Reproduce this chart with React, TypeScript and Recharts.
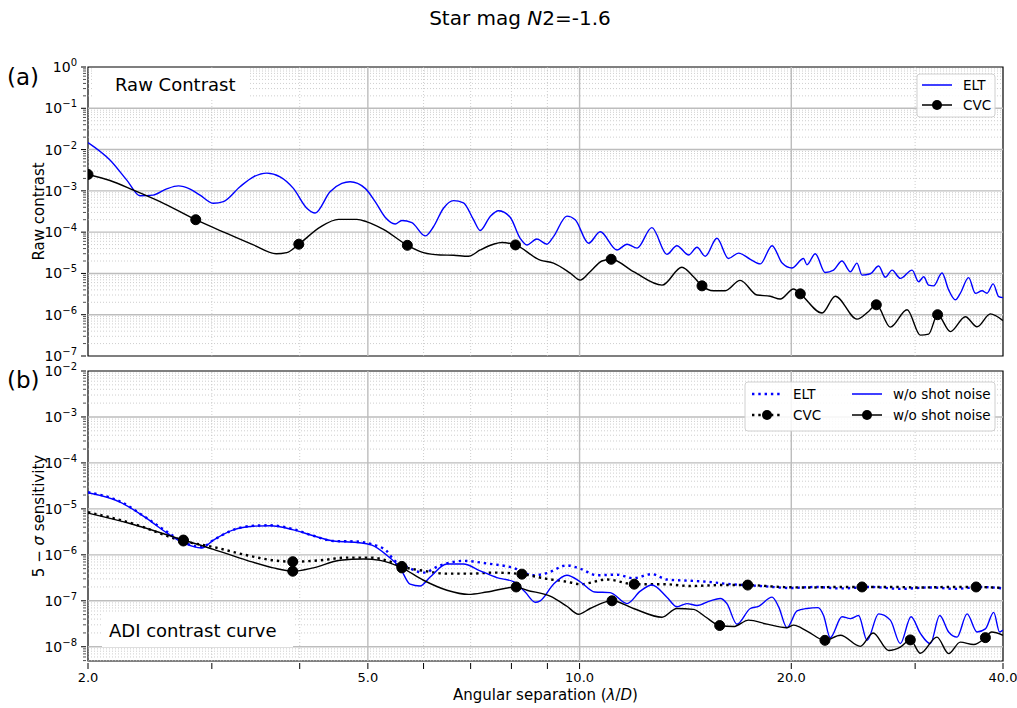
import React from "react";
import { LineChart, Line, XAxis, YAxis, ReferenceLine, ReferenceArea } from "recharts";

const FONT = "'DejaVu Sans', Verdana, sans-serif";
const BLUE = "#0000ff";
const ARCSEC_PER_LD = 0.0639;

// (a) raw contrast, ELT
const rawEltSep = [2.0, 2.149, 2.271, 2.371, 2.475, 2.588, 2.689, 2.794, 2.886, 3.016, 3.116, 3.29, 3.438, 3.592, 3.751, 3.918, 4.094, 4.207, 4.418, 4.591, 4.718, 4.956, 5.121, 5.291, 5.467, 5.589, 5.775, 6.032, 6.198, 6.404, 6.618, 6.838, 7.066, 7.222, 7.463, 7.668, 7.967, 8.233, 8.416, 8.696, 8.985, 9.181, 9.594, 9.858, 10.3, 10.7, 11.3, 11.68, 12.07, 12.67, 13.31, 13.75, 14.29, 14.69, 15.09, 15.68, 16.28, 16.83, 17.49, 18.07, 18.78, 19.41, 20.04, 20.82, 21.05, 21.63, 22.35, 22.97, 23.61, 24.27, 24.8, 25.21, 25.91, 26.62, 27.21, 27.82, 28.58, 29.7, 30.35, 30.85, 31.36, 31.87, 32.76, 33.48, 34.22, 34.78, 35.74, 36.54, 37.35, 37.96, 38.73, 39.44, 40];
const rawEltVal = [1.48e-2, 5.6e-3, 1.82e-3, 7.6e-4, 7.9e-4, 1.12e-3, 1.32e-3, 1.1e-3, 7.9e-4, 5.0e-4, 5.5e-4, 1.26e-3, 2.19e-3, 2.69e-3, 2.19e-3, 1.15e-3, 3.8e-4, 2.9e-4, 9.5e-4, 1.51e-3, 1.66e-3, 1.15e-3, 5.5e-4, 2.3e-4, 1.58e-4, 1.91e-4, 1.7e-4, 8.1e-5, 1.35e-4, 3.8e-4, 5.8e-4, 5.1e-4, 2.0e-4, 1.1e-4, 2.4e-4, 3.3e-4, 2.3e-4, 7.1e-5, 4.9e-5, 6.8e-5, 5.1e-5, 7.8e-5, 2.45e-4, 2.0e-4, 5.4e-5, 1.02e-4, 3.7e-5, 5.1e-5, 4.1e-5, 1.29e-4, 2.9e-5, 4.7e-5, 2.8e-5, 4.3e-5, 2.6e-5, 7.1e-5, 2.3e-5, 3.1e-5, 2.2e-5, 1.7e-5, 4.7e-5, 1.78e-5, 1.35e-5, 2.3e-5, 1.62e-5, 3.0e-5, 1.05e-5, 1.2e-5, 2.0e-5, 1.1e-5, 1.78e-5, 9.1e-6, 9.8e-6, 1.51e-5, 8.1e-6, 1.2e-5, 7.6e-6, 1.2e-5, 6.3e-6, 8.3e-6, 5.2e-6, 5.0e-6, 1.02e-5, 4.0e-6, 2.3e-6, 3.3e-6, 7.9e-6, 3.3e-6, 3.8e-6, 3.3e-6, 5.6e-6, 2.75e-6, 2.6e-6];

// (a) raw contrast, CVC
const rawCvcSep = [2.0, 2.149, 2.32, 2.532, 2.846, 3.15, 3.438, 3.703, 3.834, 3.988, 4.277, 4.541, 4.823, 4.984, 5.261, 5.69, 5.998, 6.335, 6.618, 6.95, 7.222, 7.544, 7.753, 8.107, 8.79, 9.181, 9.698, 10.02, 10.35, 10.76, 11.09, 11.93, 13.1, 13.98, 14.52, 14.93, 15.5, 16.11, 16.92, 17.88, 18.67, 19.29, 20.15, 20.6, 22.12, 23.1, 24.8, 25.76, 26.42, 27.66, 29.22, 30.52, 31.36, 32.29, 33.67, 35.36, 36.74, 38.38, 40];
const rawCvcVal = [2.5e-3, 1.78e-3, 1.05e-3, 5.5e-4, 2.0e-4, 9.3e-5, 4.9e-5, 3.0e-5, 3.2e-5, 5.1e-5, 1.32e-4, 2.04e-4, 2.04e-4, 1.78e-4, 1.17e-4, 4.8e-5, 3.2e-5, 2.8e-5, 2.75e-5, 2.6e-5, 3.7e-5, 5.1e-5, 5.6e-5, 4.9e-5, 2.1e-5, 1.78e-5, 1.02e-5, 6.9e-6, 1.1e-5, 2.0e-5, 2.2e-5, 1.1e-5, 5.2e-6, 1.41e-5, 8.3e-6, 5.0e-6, 3.8e-6, 3.8e-6, 6.8e-6, 3.0e-6, 2.8e-6, 2.4e-6, 4.2e-6, 3.2e-6, 1.1e-6, 2.8e-6, 7.8e-7, 1.2e-6, 1.74e-6, 5.0e-7, 1.32e-6, 3.2e-7, 3.4e-7, 1.0e-6, 3.9e-7, 8.9e-7, 5.1e-7, 1.05e-6, 7.2e-7];
const rawCvcMarks = [2.0, 2.846, 3.988, 5.69, 8.107, 11.09, 14.93, 20.6, 26.42, 32.29];

// (b) ADI, ELT with shot noise
const adiEltSep = [2.0, 2.221, 2.424, 2.588, 2.733, 2.902, 3.016, 3.219, 3.438, 3.631, 3.918, 4.183, 4.467, 4.823, 5.066, 5.32, 5.437, 5.681, 5.998, 6.335, 6.838, 7.382, 8.054, 8.6, 8.985, 9.594, 10.02, 10.58, 11.3, 11.92, 12.67, 13.31, 14.21, 15.18, 16.38, 18.07, 19.93, 21.63, 23.49, 25.91, 28.58, 31.53, 34.22, 37.15, 40];
const adiEltVal = [2.3e-5, 1.45e-5, 6.3e-6, 3.2e-6, 1.9e-6, 1.48e-6, 2.1e-6, 3.5e-6, 4.3e-6, 4.4e-6, 3.6e-6, 2.6e-6, 2.0e-6, 1.95e-6, 1.7e-6, 1.2e-6, 7.9e-7, 5.5e-7, 4.1e-7, 5.9e-7, 7.4e-7, 6.5e-7, 5.2e-7, 3.6e-7, 4.0e-7, 5.9e-7, 5.0e-7, 3.6e-7, 3.7e-7, 3.1e-7, 3.8e-7, 2.9e-7, 2.75e-7, 2.6e-7, 2.3e-7, 2.1e-7, 1.9e-7, 2.0e-7, 1.86e-7, 2.0e-7, 1.82e-7, 1.95e-7, 1.82e-7, 2.0e-7, 1.86e-7];

// (b) ADI, ELT without shot noise
const adiEltNsSep = [2.0, 2.221, 2.424, 2.588, 2.733, 2.902, 3.016, 3.219, 3.438, 3.631, 3.918, 4.183, 4.467, 4.823, 5.066, 5.32, 5.556, 5.741, 5.932, 6.131, 6.477, 6.838, 7.222, 7.627, 8.054, 8.368, 8.648, 8.79, 9.181, 9.594, 10.02, 10.51, 11.05, 11.68, 12.2, 12.67, 13.31, 13.75, 14.21, 14.69, 15.34, 15.85, 16.2, 16.74, 17.49, 17.97, 18.78, 19.19, 19.72, 20.38, 21.05, 21.83, 22.23, 22.72, 23.61, 24.27, 24.93, 25.63, 26.62, 27.66, 28.58, 29.6, 30.52, 31.53, 32.51, 33.48, 34.41, 35.56, 36.74, 37.76, 38.8, 39.55, 40];
const adiEltNsVal = [2.24e-5, 1.41e-5, 6.2e-6, 3.0e-6, 1.82e-6, 1.41e-6, 2.1e-6, 3.5e-6, 4.2e-6, 4.3e-6, 3.5e-6, 2.6e-6, 2.0e-6, 1.86e-6, 1.62e-6, 9.8e-7, 5.2e-7, 2.3e-7, 2.1e-7, 3.3e-7, 6.3e-7, 6.3e-7, 4.5e-7, 3.2e-7, 2.6e-7, 1.55e-7, 9.3e-8, 1.0e-7, 2.3e-7, 3.6e-7, 2.6e-7, 1.55e-7, 1.51e-7, 8.7e-8, 1.62e-7, 2.2e-7, 1.2e-7, 7.4e-8, 8.7e-8, 7.9e-8, 1.0e-7, 1.12e-7, 8.7e-8, 3.1e-8, 6.8e-8, 7.6e-8, 1.2e-7, 7.4e-8, 2.6e-8, 6.0e-8, 6.8e-8, 7.1e-8, 4.8e-8, 1.58e-8, 4.5e-8, 4.1e-8, 4.8e-8, 1.38e-8, 5.2e-8, 3.8e-8, 1.17e-8, 4.5e-8, 1.95e-8, 1.17e-8, 4.8e-8, 2.1e-8, 1.62e-8, 5.2e-8, 2.1e-8, 2.45e-8, 5.6e-8, 2.1e-8, 2.3e-8];

// (b) ADI, CVC with shot noise
const adiCvcSep = [2.0, 2.295, 2.733, 3.016, 3.364, 3.668, 3.91, 4.277, 4.667, 5.037, 5.379, 5.589, 5.998, 6.477, 6.99, 7.544, 8.279, 8.985, 9.594, 10.02, 10.94, 11.96, 13.16, 14.37, 15.85, 17.34, 19.29, 21.29, 23.1, 25.21, 27.66, 30.52, 33.67, 36.63, 40];
const adiCvcVal = [8.5e-6, 5.0e-6, 2.0e-6, 1.48e-6, 9.8e-7, 7.6e-7, 7.1e-7, 7.6e-7, 8.7e-7, 8.7e-7, 7.1e-7, 5.6e-7, 4.5e-7, 3.9e-7, 3.9e-7, 4.1e-7, 3.8e-7, 3.0e-7, 2.6e-7, 2.3e-7, 2.9e-7, 2.3e-7, 2.3e-7, 2.1e-7, 2.2e-7, 2.2e-7, 2.0e-7, 1.95e-7, 2.0e-7, 2.0e-7, 2.0e-7, 1.95e-7, 2.0e-7, 2.0e-7, 1.9e-7];
const adiCvcMarks = [2.733, 3.91, 5.589, 8.279, 11.96, 17.34, 25.21, 36.63];

// (b) ADI, CVC without shot noise
const adiCvcNsSep = [2.0, 2.295, 2.733, 3.016, 3.364, 3.668, 3.91, 4.183, 4.565, 4.928, 5.204, 5.589, 5.998, 6.477, 6.95, 7.382, 8.125, 8.416, 9.082, 9.594, 9.965, 10.35, 11.12, 11.93, 13.1, 13.75, 14.52, 15.09, 15.82, 16.55, 17.39, 18.47, 19.72, 20.15, 21.05, 22.33, 23.49, 25.07, 26.14, 27.51, 28.58, 29.53, 30.52, 32.22, 33.48, 34.78, 36.34, 37.76, 38.53, 40];
const adiCvcNsVal = [8.1e-6, 4.8e-6, 2.1e-6, 1.32e-6, 7.6e-7, 5.2e-7, 4.4e-7, 5.2e-7, 7.6e-7, 8.1e-7, 7.6e-7, 5.2e-7, 2.8e-7, 1.7e-7, 1.38e-7, 1.55e-7, 2.0e-7, 1.7e-7, 1.26e-7, 7.6e-8, 5.1e-8, 6.8e-8, 1.0e-7, 6.8e-8, 4.4e-8, 6.8e-8, 6.5e-8, 4.5e-8, 2.9e-8, 2.75e-8, 3.8e-8, 3.1e-8, 2.6e-8, 2.95e-8, 2.2e-8, 1.38e-8, 1.78e-8, 1.02e-8, 2.0e-8, 8.3e-9, 9.8e-9, 1.41e-8, 7.2e-9, 1.62e-8, 7.1e-9, 1.26e-8, 1.12e-8, 1.58e-8, 2.1e-8, 1.78e-8];
const adiCvcNsMarks = [2.733, 3.91, 5.589, 8.125, 11.12, 15.82, 22.33, 29.53, 37.76];

// axes
const sepTicks = [2, 3, 4, 5, 6, 7, 8, 9, 10, 20, 30, 40];
const sepLabelled = [2, 5, 10, 20, 40];
const sepGridMajor = [5, 10, 20];
const sepGridMinor = [3, 4, 6, 7, 8, 9, 30];
const arcsecLabels = [0.2, 0.5, 1.0, 2.0];
const rawDomain: [number, number] = [1e-7, 1];
const adiDomain: [number, number] = [4.9e-9, 1e-2];

const logTicks = (lo: number, hi: number) => {
  const out: number[] = [];
  for (let e = -9; e <= 0; e++) {
    for (let m = 1; m <= 9; m++) {
      const v = Number(`${m}e${e}`);
      if (v >= lo && v <= hi) out.push(v);
    }
  }
  return out;
};
const isDecade = (v: number) => Math.abs(Math.log10(v) - Math.round(Math.log10(v))) < 1e-9;
const zip = (xs: number[], ys: number[]) => xs.map((sep, i) => ({ sep, val: ys[i] }));

const rawYTicks = logTicks(...rawDomain);
const adiYTicks = logTicks(...adiDomain);

const LogTick = ({ x, y, payload }: any) => {
  const v = payload.value;
  const major = isDecade(v);
  const e = Math.round(Math.log10(v));
  return (
    <g>
      <line x1={x - (major ? 5 : 3)} x2={x} y1={y} y2={y} stroke="#000" strokeWidth={major ? 1 : 0.7} />
      {major && (
        <text x={x - 9} y={y + 5} textAnchor="end" fontSize={14} fontFamily={FONT} fill="#000">
          10
          <tspan dy={-6} fontSize={10}>{e < 0 ? `\u2212${-e}` : `${e}`}</tspan>
        </text>
      )}
    </g>
  );
};

const SepTick = ({ x, y, payload }: any) => {
  const v = payload.value;
  return (
    <g>
      <line x1={x} x2={x} y1={y} y2={y + 6} stroke="#000" strokeWidth={1} />
      {sepLabelled.includes(v) && (
        <text x={x} y={y + 19} textAnchor="middle" fontSize={13} fontFamily={FONT} fill="#000">
          {v.toFixed(1)}
        </text>
      )}
    </g>
  );
};

const ArcTick = ({ x, y, payload }: any) => (
  <g>
    <line x1={x} x2={x} y1={y - 5} y2={y} stroke="#000" strokeWidth={1} />
    <text x={x} y={y - 12} textAnchor="middle" fontSize={13.5} fontFamily={FONT} fill="#000">
      {`${(payload.value * ARCSEC_PER_LD).toFixed(1)}"`}
    </text>
  </g>
);

const yTitle = (content: React.ReactNode) => (props: any) => {
  const vb = props.viewBox || {};
  const cx = vb.x + 11;
  const cy = vb.y + vb.height / 2;
  return (
    <text x={cx} y={cy} transform={`rotate(-90 ${cx} ${cy})`} textAnchor="middle" dominantBaseline="central" fontSize={15} fontFamily={FONT} fill="#000">
      {content}
    </text>
  );
};

const xTitle = (props: any) => {
  const vb = props.viewBox || {};
  return (
    <text x={vb.x + vb.width / 2} y={vb.y + 39} textAnchor="middle" fontSize={15} fontFamily={FONT} fill="#000">
      Angular separation (<tspan fontStyle="italic">λ</tspan>/<tspan fontStyle="italic">D</tspan>)
    </text>
  );
};

const markerDot = (marks: number[]) => (props: any) => {
  const { cx, cy, payload, index } = props;
  if (cx == null || cy == null || !marks.includes(payload.sep)) return <g key={`d${index}`} />;
  return <circle key={`d${index}`} cx={cx} cy={cy} r={5} fill="#000" stroke="#000" />;
};

const gridLines = (yTicks: number[], domain: [number, number]) => [
  ...sepGridMinor.map((v) => (
    <ReferenceLine key={`gx${v}`} xAxisId="sep" yAxisId="v" x={v} stroke="#c2c2c2" strokeWidth={0.8} strokeDasharray="1 2" />
  )),
  ...sepGridMajor.map((v) => (
    <ReferenceLine key={`Gx${v}`} xAxisId="sep" yAxisId="v" x={v} stroke="#bdbdbd" strokeWidth={1.4} />
  )),
  ...yTicks
    .filter((v) => v > domain[0] && v < domain[1])
    .map((v) =>
      isDecade(v) ? (
        <ReferenceLine key={`Gy${v}`} xAxisId="sep" yAxisId="v" y={v} stroke="#bdbdbd" strokeWidth={1.4} />
      ) : (
        <ReferenceLine key={`gy${v}`} xAxisId="sep" yAxisId="v" y={v} stroke="#c2c2c2" strokeWidth={0.8} strokeDasharray="1 2" />
      )
    ),
];

const RawPanel = () => (
  <LineChart width={1017} height={372} margin={{ top: 37, right: 14, bottom: 16, left: 28 }}>
    <XAxis xAxisId="sep" dataKey="sep" type="number" scale="log" domain={[2, 40]} allowDataOverflow hide />
    <XAxis
      xAxisId="arc"
      orientation="top"
      type="number"
      scale="log"
      domain={[2, 40]}
      allowDataOverflow
      ticks={arcsecLabels.map((a) => a / ARCSEC_PER_LD)}
      interval={0}
      tickSize={0}
      tickLine={false}
      axisLine={false}
      height={30}
      tick={(p: any) => <ArcTick {...p} />}
    />
    <YAxis
      yAxisId="v"
      type="number"
      scale="log"
      domain={rawDomain}
      allowDataOverflow
      ticks={rawYTicks}
      interval={0}
      tickSize={0}
      tickLine={false}
      axisLine={false}
      width={60}
      tick={(p: any) => <LogTick {...p} />}
      label={yTitle("Raw contrast")}
    />
    {gridLines(rawYTicks, rawDomain)}
    <Line xAxisId="sep" yAxisId="v" data={zip(rawEltSep, rawEltVal)} dataKey="val" type="monotone" stroke={BLUE} strokeWidth={1.4} dot={false} activeDot={false} isAnimationActive={false} />
    <Line xAxisId="sep" yAxisId="v" data={zip(rawCvcSep, rawCvcVal)} dataKey="val" type="monotone" stroke="#000" strokeWidth={1.4} dot={markerDot(rawCvcMarks)} activeDot={false} isAnimationActive={false} />
    <ReferenceArea xAxisId="sep" yAxisId="v" x1={2} x2={40} y1={rawDomain[0]} y2={rawDomain[1]} fill="none" stroke="#000" strokeWidth={1.2} />
  </LineChart>
);

const AdiPanel = () => (
  <LineChart width={1017} height={356} margin={{ top: 19, right: 14, bottom: 7, left: 28 }}>
    <XAxis
      xAxisId="sep"
      dataKey="sep"
      type="number"
      scale="log"
      domain={[2, 40]}
      allowDataOverflow
      ticks={sepTicks}
      interval={0}
      tickSize={0}
      tickLine={false}
      axisLine={false}
      height={40}
      tick={(p: any) => <SepTick {...p} />}
      label={xTitle}
    />
    <YAxis
      yAxisId="v"
      type="number"
      scale="log"
      domain={adiDomain}
      allowDataOverflow
      ticks={adiYTicks}
      interval={0}
      tickSize={0}
      tickLine={false}
      axisLine={false}
      width={60}
      tick={(p: any) => <LogTick {...p} />}
      label={yTitle(
        <>
          5 − <tspan fontStyle="italic">σ</tspan> sensitivity
        </>
      )}
    />
    {gridLines(adiYTicks, adiDomain)}
    <Line xAxisId="sep" yAxisId="v" data={zip(adiEltSep, adiEltVal)} dataKey="val" type="monotone" stroke={BLUE} strokeWidth={2.4} strokeDasharray="2.4 3.9" dot={false} activeDot={false} isAnimationActive={false} />
    <Line xAxisId="sep" yAxisId="v" data={zip(adiCvcSep, adiCvcVal)} dataKey="val" type="monotone" stroke="#000" strokeWidth={2.4} strokeDasharray="2.4 3.9" dot={markerDot(adiCvcMarks)} activeDot={false} isAnimationActive={false} />
    <Line xAxisId="sep" yAxisId="v" data={zip(adiEltNsSep, adiEltNsVal)} dataKey="val" type="monotone" stroke={BLUE} strokeWidth={1.4} dot={false} activeDot={false} isAnimationActive={false} />
    <Line xAxisId="sep" yAxisId="v" data={zip(adiCvcNsSep, adiCvcNsVal)} dataKey="val" type="monotone" stroke="#000" strokeWidth={1.4} dot={markerDot(adiCvcNsMarks)} activeDot={false} isAnimationActive={false} />
    <ReferenceArea xAxisId="sep" yAxisId="v" x1={2} x2={40} y1={adiDomain[0]} y2={adiDomain[1]} fill="none" stroke="#000" strokeWidth={1.2} />
  </LineChart>
);

const txt = { fontFamily: FONT, fill: "#000" } as const;

const Overlay = () => (
  <svg width={1017} height={708} style={{ position: "absolute", left: 0, top: 0, pointerEvents: "none" }}>
    <text x={520} y={25} textAnchor="middle" fontSize={20} {...txt}>
      Star mag <tspan fontStyle="italic">N</tspan>2=-1.6
    </text>
    <text x={7} y={85} fontSize={23} {...txt}>(a)</text>
    <text x={7} y={388} fontSize={23} {...txt}>(b)</text>

    <rect x={92} y={68} width={158} height={32} fill="#fff" />
    <text x={115} y={90.5} fontSize={18} {...txt}>Raw Contrast</text>
    <rect x={102} y={613} width={191} height={34} fill="#fff" />
    <text x={109} y={637} fontSize={18} {...txt}>ADI contrast curve</text>

    <rect x={917} y={74} width={78} height={43} rx={3} fill="#fff" fillOpacity={0.85} stroke="#d0d0d0" />
    <line x1={922} x2={952} y1={85} y2={85} stroke={BLUE} strokeWidth={1.5} />
    <text x={963} y={89.5} fontSize={13.5} {...txt}>ELT</text>
    <line x1={922} x2={952} y1={105} y2={105} stroke="#000" strokeWidth={1.5} />
    <circle cx={937} cy={105} r={5} fill="#000" />
    <text x={963} y={109.5} fontSize={13.5} {...txt}>CVC</text>

    <rect x={745} y={382} width={250} height={49} rx={3} fill="#fff" fillOpacity={0.85} stroke="#d0d0d0" />
    <line x1={752} x2={782} y1={394} y2={394} stroke={BLUE} strokeWidth={2.4} strokeDasharray="2.4 3.9" />
    <text x={793} y={398.5} fontSize={13.5} {...txt}>ELT</text>
    <line x1={752} x2={782} y1={415} y2={415} stroke="#000" strokeWidth={2.4} strokeDasharray="2.4 3.9" />
    <circle cx={767} cy={415} r={5} fill="#000" />
    <text x={793} y={419.5} fontSize={13.5} {...txt}>CVC</text>
    <line x1={852} x2={882} y1={394} y2={394} stroke={BLUE} strokeWidth={1.5} />
    <text x={893} y={398.5} fontSize={13.5} {...txt}>w/o shot noise</text>
    <line x1={852} x2={882} y1={415} y2={415} stroke="#000" strokeWidth={1.5} />
    <circle cx={867} cy={415} r={5} fill="#000" />
    <text x={893} y={419.5} fontSize={13.5} {...txt}>w/o shot noise</text>
  </svg>
);

export default function App() {
  return (
    <div style={{ position: "absolute", left: 0, top: 0, width: 1017, height: 708, background: "#fff" }}>
      <div style={{ position: "absolute", left: 0, top: 0 }}>
        <RawPanel />
      </div>
      <div style={{ position: "absolute", left: 0, top: 352 }}>
        <AdiPanel />
      </div>
      <Overlay />
    </div>
  );
}
